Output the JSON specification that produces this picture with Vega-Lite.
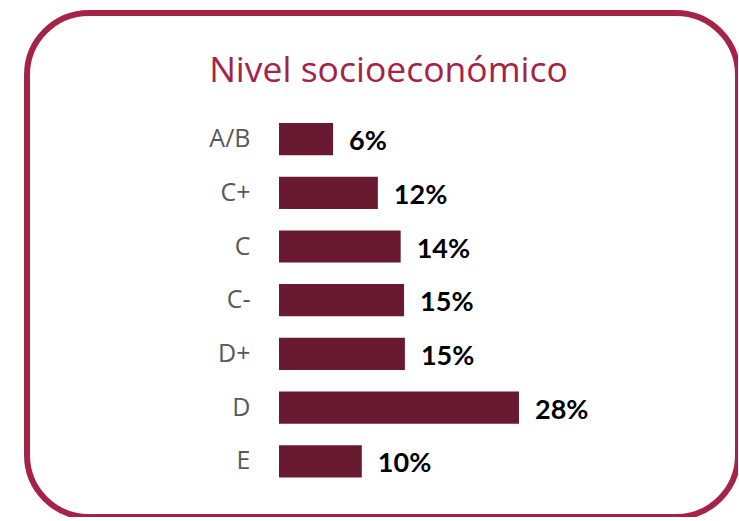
{
  "$schema": "https://vega.github.io/schema/vega-lite/v6.json",
  "width": 711,
  "height": 504,
  "autosize": {"type": "none"},
  "padding": {"left": 27, "top": 13, "right": 0, "bottom": 0},
  "background": "white",
  "config": {
    "view": {"stroke": "#a52347", "strokeWidth": 6, "cornerRadius": 62, "fill": "white"}
  },
  "title": {
    "text": "Nivel socioeconómico",
    "anchor": "middle",
    "frame": "group",
    "font": "Open Sans",
    "fontSize": 35.5,
    "fontWeight": "normal",
    "color": "#a52347",
    "baseline": "alphabetic",
    "offset": -104,
    "dx": 6
  },
  "data": {
    "values": [
      {"nivel": "A/B", "valor": 0.064},
      {"nivel": "C+", "valor": 0.117},
      {"nivel": "C", "valor": 0.144},
      {"nivel": "C-", "valor": 0.148},
      {"nivel": "D+", "valor": 0.149},
      {"nivel": "D", "valor": 0.284},
      {"nivel": "E", "valor": 0.098}
    ]
  },
  "encoding": {
    "y": {
      "field": "nivel",
      "type": "nominal",
      "sort": null,
      "scale": {"range": [110, 464.4], "paddingInner": 0.4, "paddingOuter": 0},
      "axis": {
        "title": null,
        "domain": false,
        "ticks": false,
        "offset": -252,
        "labelPadding": 29,
        "labelFont": "Open Sans",
        "labelFontSize": 25,
        "labelFontWeight": "normal",
        "labelColor": "#595959"
      }
    },
    "x": {
      "field": "valor",
      "type": "quantitative",
      "scale": {"domain": [0, 0.5], "range": [252, 674.5]},
      "axis": null
    }
  },
  "layer": [
    {"mark": {"type": "bar", "color": "#6a1a30"}},
    {
      "mark": {
        "type": "text",
        "align": "left",
        "baseline": "middle",
        "dx": 16,
        "dy": 3,
        "font": "Lato",
        "fontSize": 27,
        "fontWeight": "bold",
        "color": "#000000"
      },
      "encoding": {"text": {"field": "valor", "type": "quantitative", "format": ".0%"}}
    }
  ]
}
